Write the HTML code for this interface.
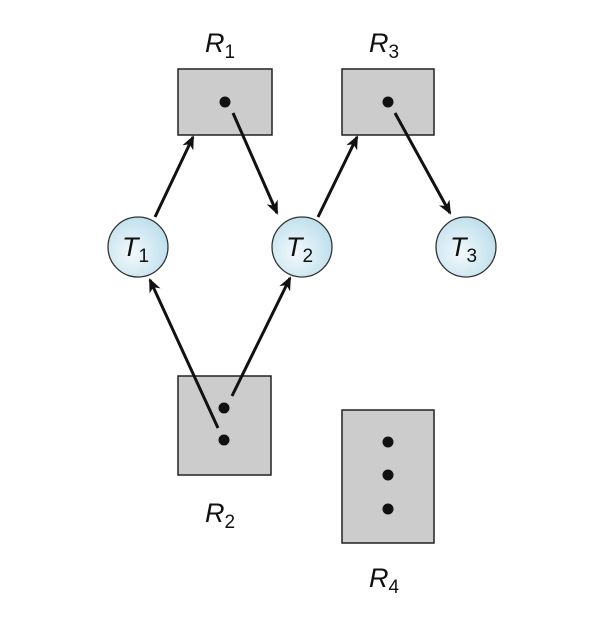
<!DOCTYPE html>
<html><head><style>body{margin:0;background:#fff}</style></head><body>
<svg width="606" height="628" viewBox="0 0 606 628" xmlns="http://www.w3.org/2000/svg">
<defs>
<radialGradient id="g" cx="0.4" cy="0.6" r="0.7">
<stop offset="0" stop-color="#f2f9fc"/><stop offset="1" stop-color="#b8dcea"/>
</radialGradient>
<marker id="a" markerWidth="14" markerHeight="14" refX="12" refY="7" orient="auto" markerUnits="userSpaceOnUse" viewBox="0 0 14 14">
<path d="M0,1 L14,7 L0,13 L4,7 z" fill="#111"/>
</marker>
</defs>
<g fill="#cccccc" stroke="#222" stroke-width="1.5">
<rect x="178" y="69" width="94" height="66"/>
<rect x="342" y="69" width="92" height="66"/>
<rect x="178" y="376" width="93" height="99"/>
<rect x="342" y="410" width="92" height="133"/>
</g>
<g fill="#111">
<circle cx="225" cy="102" r="5.5"/><circle cx="388" cy="102" r="5.5"/>
<circle cx="224" cy="408" r="5.5"/><circle cx="224" cy="440" r="5.5"/>
<circle cx="388" cy="442" r="5.5"/><circle cx="388" cy="475" r="5.5"/><circle cx="388" cy="509" r="5.5"/>
</g>
<g fill="url(#g)" stroke="#333" stroke-width="1.3">
<circle cx="138" cy="247" r="30"/><circle cx="302" cy="247" r="30"/><circle cx="466" cy="247" r="30"/>
</g>
<g stroke="#111" stroke-width="3" marker-end="url(#a)">
<line x1="155" y1="217" x2="193" y2="137"/>
<line x1="233" y1="113" x2="277" y2="213"/>
<line x1="318" y1="217" x2="357" y2="137"/>
<line x1="395" y1="113" x2="450" y2="213"/>
<line x1="232" y1="396" x2="290" y2="278"/>
<line x1="218" y1="428" x2="150" y2="280"/>
</g>
<g font-family="Liberation Sans, sans-serif" fill="#111">
<text x="205" y="52" font-size="27" font-style="italic">R<tspan font-size="19" font-style="normal" dy="6">1</tspan></text>
<text x="369" y="52" font-size="27" font-style="italic">R<tspan font-size="19" font-style="normal" dy="6">3</tspan></text>
<text x="205" y="522" font-size="27" font-style="italic">R<tspan font-size="19" font-style="normal" dy="6">2</tspan></text>
<text x="369" y="587" font-size="27" font-style="italic">R<tspan font-size="19" font-style="normal" dy="6">4</tspan></text>
<text x="122" y="256" font-size="27" font-style="italic">T<tspan font-size="19" font-style="normal" dy="6">1</tspan></text>
<text x="286" y="256" font-size="27" font-style="italic">T<tspan font-size="19" font-style="normal" dy="6">2</tspan></text>
<text x="450" y="256" font-size="27" font-style="italic">T<tspan font-size="19" font-style="normal" dy="6">3</tspan></text>
</g>
</svg>
</body></html>
